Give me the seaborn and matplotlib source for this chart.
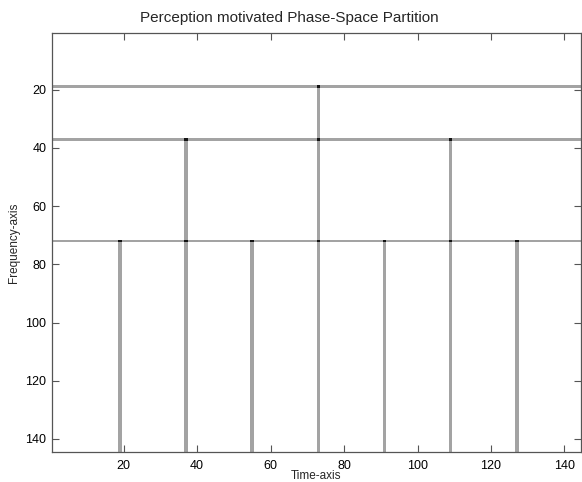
import numpy as np
import pandas as pd
import seaborn as sns
import matplotlib
matplotlib.use("Agg")
import matplotlib.pyplot as plt
from matplotlib.colors import LinearSegmentedColormap

# ---- data (1-based indices) ----
grid_size = 144
h_rows = [19, 37, 72]                       # horizontal partition lines (frequency index)
v_cols = [19, 37, 55, 73, 91, 109, 127]     # vertical partition lines (time index)
v_start = [72, 37, 72, 19, 72, 37, 72]      # frequency index where each vertical line starts
x_ticks = [20, 40, 60, 80, 100, 120, 140]
y_ticks = [20, 40, 60, 80, 100, 120, 140]

# build the partition matrix
M = np.zeros((grid_size, grid_size))
for r in h_rows:
    M[r - 1, :] += 1
for c, s in zip(v_cols, v_start):
    M[s - 1:, c - 1] += 1
df = pd.DataFrame(M, index=np.arange(1, grid_size + 1), columns=np.arange(1, grid_size + 1))

sns.set_style("ticks")
plt.rcParams['font.family'] = ['Liberation Sans', 'DejaVu Sans']
plt.rcParams['xtick.direction'] = 'in'
plt.rcParams['ytick.direction'] = 'in'
plt.rcParams['axes.axisbelow'] = False

cmap = LinearSegmentedColormap.from_list(
    "part", [(0.0, (1, 1, 1)), (0.5, (0.64, 0.64, 0.64)), (1.0, (0.08, 0.08, 0.08))])

fig = plt.figure(figsize=(5.82, 4.82), dpi=100)
ax = fig.add_axes([52 / 582, 1 - 452 / 482, 529 / 582, (452 - 33) / 482])
sns.heatmap(df, ax=ax, cmap=cmap, vmin=0, vmax=2, cbar=False,
            xticklabels=False, yticklabels=False)
ax.set_axisbelow(False)

ax.set_xticks([v - 0.5 for v in x_ticks])
ax.set_xticklabels([str(v) for v in x_ticks], rotation=0)
ax.set_yticks([v - 0.5 for v in y_ticks])
ax.set_yticklabels([str(v) for v in y_ticks], rotation=0)
ax.tick_params(axis='both', which='major', direction='in', length=5, width=0.8,
               color='#555555', labelcolor='black', labelsize=9,
               top=True, right=True, bottom=True, left=True,
               labeltop=False, labelright=False)
ax.tick_params(axis='x', pad=6)
ax.tick_params(axis='y', pad=4)
for sp in ax.spines.values():
    sp.set_visible(True)
    sp.set_color('#555555')
    sp.set_linewidth(0.9)
    sp.set_zorder(3)

ax.set_xlabel("Time-axis", fontsize=8.5, labelpad=-1.5)
ax.set_ylabel("Frequency-axis", fontsize=8.5, labelpad=4)
ax.set_title("Perception motivated Phase-Space Partition", fontsize=11,
             x=(289 - 52) / 529, pad=8)

fig.savefig("out.png", dpi=100)
